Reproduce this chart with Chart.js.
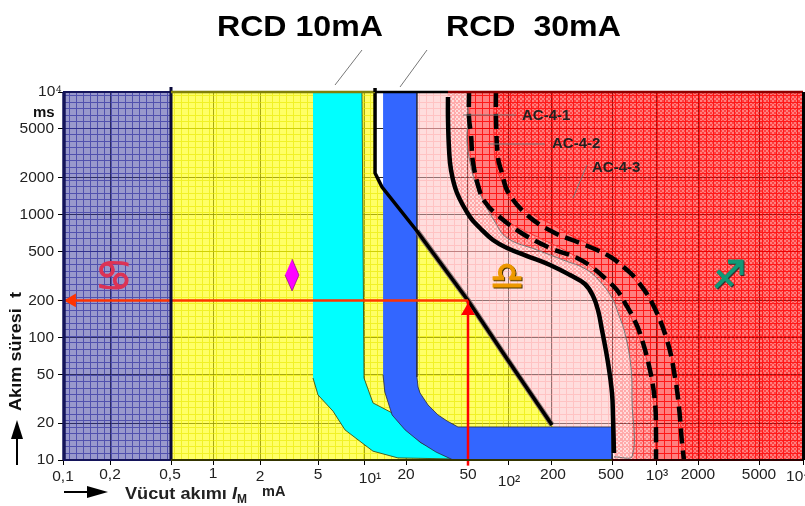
<!DOCTYPE html>
<html lang="tr">
<head>
<meta charset="UTF-8">
<title>RCD akim sure egrileri</title>
<script src="https://cdnjs.cloudflare.com/ajax/libs/Chart.js/4.4.1/chart.umd.js"></script>
<style>
  body { margin: 0; background: #fff; }
  canvas { display: block; }
</style>
</head>
<body>
<canvas id="chart" width="805" height="506"></canvas>
<script>
// axis values
var xTicks = [0.1, 0.2, 0.5, 1, 2, 5, 10, 20, 50, 100, 200, 500, 1000, 2000, 5000, 10000];
var xLabels = ["0,1", "0,2", "0,5", "1", "2", "5", "10¹", "20", "50", "10²", "200", "500", "10³", "2000", "5000", "10⁴"];
var yTicks = [10, 20, 50, 100, 200, 500, 1000, 2000, 5000, 10000];
var yLabels = ["10", "20", "50", "100", "200", "500", "1000", "2000", "5000", "10⁴"];

// the paper's x axis is not a perfect log scale, these are its gridlines in picture pixels
var xGridPx = [63, 110, 171, 213, 260, 318, 364, 406, 468, 508, 551, 612, 656, 698, 759, 803];
var xLabelDx = [0, 0, -1, 0, 0, 0, 6, 0, 0, 1, 2, -1, 1, 0, 0, -5];
var xLabelDy = [2, 0, 0, -1, 2, 0, 4, 0, 0, 7, 0, 0, 1, 0, 0, 2];

// curves, current in mA and time in ms
var c1Current = [37.2, 37.2, 37.8, 38.9, 42.5, 51.8, 61.5, 77.1, 98.3, 136, 197, 266, 333, 376, 405, 430, 471, 500, 508, 516];
var c1Time = [9100, 6138, 3367, 2313, 1502, 957, 779, 622, 535, 460, 389, 322, 272, 217, 167, 115, 62, 35.2, 22.4, 11.4];
var greyCurrent = [50, 50, 49.3, 51.8, 56.5, 64.8, 79.8, 98.3, 160, 240, 344, 437, 508, 550, 613, 674, 685, 685];
var greyTime = [10000, 6138, 3912, 2688, 1846, 1317, 871, 645, 515, 427, 354, 267, 202, 158, 108, 57, 30.8, 10.6];
var innerRedCurrent = [51.8, 51.8, 56.5, 70.7, 103, 167, 266, 376, 508, 595, 718, 868, 954, 1000];
var innerRedTime = [10000, 3242, 2227, 1133, 855, 645, 487, 368, 252, 202, 121, 65, 35.2, 10];
var outerRedCurrent = [78.4, 78.4, 81.2, 90.1, 103, 143, 206, 309, 437, 541, 777, 939, 1104, 1302, 1414, 1511, 1536];
var outerRedTime = [10000, 4060, 2540, 1846, 1368, 1032, 824, 622, 515, 444, 257, 191, 138, 69, 35.2, 17.6, 10];
var dash1Current = [50.9, 50.9, 52.7, 54.5, 61.5, 67.1, 79.8, 121, 197, 296, 376, 464, 541, 613, 696, 777, 910, 985, 1000, 1000];
var dash1Time = [10000, 6138, 4462, 2688, 1530, 1269, 1032, 722, 535, 444, 368, 293, 243, 191, 146, 108, 54, 29.2, 16.6, 10];
var dash2Current = [81.2, 81.2, 84.1, 90.1, 100, 136, 206, 309, 399, 500, 633, 741, 939, 1199, 1368, 1461, 1536, 1587];
var dash2Time = [10000, 6138, 2897, 2186, 1530, 994, 722, 587, 515, 444, 354, 293, 191, 95, 47.5, 27, 13.8, 10];
var limitCurrent = [12, 12, 13.46, 23.5, 50, 100, 203];
var limitTime = [10000, 2186, 1681, 736, 200, 65, 19.3];

// RCD bands
var cyanCurrent = [4.62, 9.7, 10, 11.6, 15.9, 24.6, 39.5, 17.5, 11.6, 9.7, 7.51, 6.27, 5, 4.62];
var cyanTime = [10000, 10000, 46.6, 29.2, 24.2, 14, 10.2, 10.4, 11.8, 13.8, 17.6, 25, 33.9, 46.6];
var blueCurrent = [13.7, 23.5, 23.5, 23.9, 24.6, 27.7, 32.1, 36.7, 43.1, 500, 500, 39.5, 31.2, 24.6, 19.7, 15.9, 14.1, 13.7];
var blueTime = [9900, 9900, 47.5, 39.4, 35.2, 28.1, 23.3, 20.8, 18.6, 18.6, 10, 10.1, 11.6, 14, 17.6, 23.3, 35.8, 49.3];

// marks
var diamondCurrent = [3.32, 3.7, 3.32, 2.97];
var diamondTime = [435, 322, 239, 322];
var arrowHCurrent = [0.1, 50];
var arrowHTime = [200, 200];
var arrowVCurrent = [50, 50];
var arrowVTime = [200, 9];

function pts(xs, ts) {
  return xs.map(function (v, i) { return { x: v, y: ts[i] }; });
}
// closed outline between two curves, from the top of the chart to the bottom
function band(ax, at, bx, bt) {
  var left = pts(ax, at), right = pts(bx, bt).reverse();
  return [{ x: ax[0], y: 10000 }].concat(left, [{ x: ax[ax.length - 1], y: 10 }, { x: bx[bx.length - 1], y: 10 }], right, [{ x: bx[0], y: 10000 }]);
}

// fill with the fine millimetre grid of the paper, and a dot hatch if asked
function paper(bg, dot, line) {
  var c = document.createElement("canvas");
  c.width = 28; c.height = 52;
  var g = c.getContext("2d");
  for (var y = 0; y < 52; y++) {
    for (var x = 0; x < 28; x++) {
      var onLine = x % 7 == 6 || y % 13 == 4 || y % 13 == 11;
      if (onLine) g.fillStyle = line;
      else if (dot && ((x >> 1) + (y >> 1)) % 2) g.fillStyle = dot;
      else g.fillStyle = bg;
      g.fillRect(x, y, 1, 1);
    }
  }
  return g.createPattern(c, "repeat");
}

class PaperLogScale extends Chart.LogarithmicScale {
  static id = "paperlog";
  static defaults = {};
  getPixelForValue(value) {
    if (this.axis != "x") return super.getPixelForValue(value);
    var lv = Math.log10(value), n = xTicks.length - 2;
    for (var i = 0; i < n; i++) {
      if (lv <= Math.log10(xTicks[i + 1])) break;
    }
    var a = Math.log10(xTicks[i]), b = Math.log10(xTicks[i + 1]);
    var px = xGridPx[i] + (lv - a) / (b - a) * (xGridPx[i + 1] - xGridPx[i]);
    return this.getPixelForDecimal((px - xGridPx[0]) / (xGridPx[15] - xGridPx[0]));
  }
  _computeLabelItems(area) {
    var items = super._computeLabelItems(area);
    var axis = this.axis;
    items.forEach(function (it, i) {
      if (axis == "x") {
        it.options.translation[0] += xLabelDx[i];
        it.options.translation[1] += xLabelDy[i];
      } else if (i == 9) {
        it.options.translation[0] += 8;
      }
    });
    return items;
  }
}
Chart.register(PaperLogScale);

function put(ctx, str, x, y, font, color, sx, rot) {
  ctx.save();
  ctx.translate(x, y);
  if (rot) ctx.rotate(rot);
  ctx.scale(sx || 1, 1);
  ctx.font = font;
  ctx.fillStyle = color;
  ctx.textAlign = "left";
  ctx.textBaseline = "middle";
  ctx.fillText(str, 0, 0);
  ctx.restore();
}
// zodiac signs are drawn with a stroke on top, the plain glyphs are too thin
function sign(ctx, str, x, y, size, color, shadow) {
  ctx.save();
  ctx.font = size + "px 'DejaVu Sans'";
  ctx.textAlign = "left";
  ctx.textBaseline = "middle";
  ctx.lineWidth = 1.2;
  if (shadow) {
    ctx.fillStyle = ctx.strokeStyle = shadow;
    ctx.fillText(str, x + 1, y + 1);
    ctx.strokeText(str, x + 1, y + 1);
  }
  ctx.fillStyle = ctx.strokeStyle = color;
  ctx.fillText(str, x, y);
  ctx.strokeText(str, x, y);
  ctx.restore();
}
function seg(ctx, x1, y1, x2, y2, color, w) {
  ctx.strokeStyle = color;
  ctx.lineWidth = w;
  ctx.beginPath();
  ctx.moveTo(x1, y1);
  ctx.lineTo(x2, y2);
  ctx.stroke();
}
function head(ctx, x1, y1, x2, y2, x3, y3) {
  ctx.fillStyle = "#000";
  ctx.beginPath();
  ctx.moveTo(x1, y1);
  ctx.lineTo(x2, y2);
  ctx.lineTo(x3, y3);
  ctx.closePath();
  ctx.fill();
}

// frame, leaders and all the text that sits around the plot
var decorations = {
  id: "decorations",
  afterDraw: function (chart) {
    var ctx = chart.ctx, x = chart.scales.x, a = chart.chartArea;
    var half = x.getPixelForValue(0.5), lim = x.getPixelForValue(12), c1 = x.getPixelForValue(37.2), last = x.getPixelForValue(500);
    ctx.save();
    seg(ctx, a.left + 1, a.top, a.left + 1, a.bottom, "#14145a", 3.5);
    seg(ctx, a.left, a.top, half, a.top, "#14145a", 2);
    seg(ctx, a.left, a.bottom, half, a.bottom, "#14145a", 2);
    seg(ctx, half, 87, half, a.bottom, "#08083a", 3);
    seg(ctx, half, a.top, lim, a.top, "#80800a", 2.5);
    seg(ctx, half, a.bottom, last, a.bottom, "#353500", 2);
    seg(ctx, last, a.bottom, a.right, a.bottom, "#300", 2);
    seg(ctx, lim, 88, lim, a.top, "#000", 3.5);
    seg(ctx, lim, a.top, c1, a.top, "#000", 2.5);
    seg(ctx, c1, a.top, a.right, a.top, "#900000", 2.5);
    seg(ctx, a.right + 0.5, a.top, a.right + 0.5, a.bottom, "#000", 3);

    seg(ctx, 335, 85, 362, 50, "#777", 1);
    seg(ctx, 400, 87, 427, 50, "#777", 1);
    seg(ctx, 463, 115, 516, 115, "#777", 1);
    seg(ctx, 488, 144, 545, 144, "#777", 1);
    seg(ctx, 573, 198, 587, 165, "#777", 1);

    put(ctx, "RCD 10mA", 217, 28, "bold 30px 'Liberation Sans'", "#000", 1.07);
    put(ctx, "RCD  30mA", 446, 28, "bold 30px 'Liberation Sans'", "#000", 1.07);
    put(ctx, "ms", 33, 113, "bold 15px 'Liberation Sans'", "#111");
    put(ctx, "AC-4-1", 522, 115.5, "bold 15px 'Liberation Sans'", "#222");
    put(ctx, "AC-4-2", 552, 144, "bold 15px 'Liberation Sans'", "#222");
    put(ctx, "AC-4-3", 592, 167.5, "bold 15px 'Liberation Sans'", "#222");

    put(ctx, "Akım süresi  t", 16, 411, "bold 16.5px 'Liberation Sans'", "#111", 1.1, -Math.PI / 2);
    put(ctx, "Vücut akımı", 125, 494, "bold 16.5px 'Liberation Sans'", "#222", 1.1);
    put(ctx, "I", 232, 494, "italic bold 16.5px 'Liberation Sans'", "#222", 1.1);
    put(ctx, "M", 237, 500, "bold 12px 'Liberation Sans'", "#222");
    put(ctx, "mA", 262, 492, "bold 14.5px 'Liberation Sans'", "#222");

    seg(ctx, 17, 465, 17, 436, "#000", 2);
    head(ctx, 17, 420, 11, 439, 23, 439);
    seg(ctx, 64, 492, 90, 492, "#000", 2);
    head(ctx, 108, 492, 87, 486, 87, 498);

    sign(ctx, "♋", 95, 279, 42, "#dd3355");
    sign(ctx, "♎", 490, 279, 38, "#ee9900", "#443300");
    sign(ctx, "♐", 712, 278, 38, "#119977", "#333333");
    ctx.restore();
  }
};

function polygon(data, fill, border, width, tension) {
  return { data: data, backgroundColor: fill, fill: "shape", borderColor: border || "transparent", borderWidth: width || 0, pointRadius: 0, tension: tension || 0 };
}
function curve(data, color, width, dash) {
  return { data: data, borderColor: color, borderWidth: width, borderDash: dash || [], fill: false, pointRadius: 0, tension: 0.4 };
}

var datasets = [
  { data: [{ x: 0.114, y: 200 }], pointStyle: "triangle", pointRotation: -90, pointRadius: 8, pointBackgroundColor: "#ff3300", pointBorderWidth: 0, showLine: false, fill: false },
  { data: [{ x: 50, y: 164 }], pointStyle: "triangle", pointRadius: 8, pointBackgroundColor: "#ff0000", pointBorderWidth: 0, showLine: false, fill: false },
  Object.assign(curve(pts(arrowVCurrent, arrowVTime), "#ff0000", 2.5), { clip: false }),
  curve(pts(arrowHCurrent, arrowHTime), "#ff3300", 2.5),
  curve(pts(c1Current, c1Time), "#000", 4.5),
  curve(pts(dash1Current, dash1Time), "#000", 4.5, [15, 7]),
  curve(pts(dash2Current, dash2Time), "#000", 4.5, [15, 7]),
  Object.assign(curve(pts(limitCurrent, limitTime), "#000", 3.5), { tension: 0 }),
  Object.assign(curve(pts(limitCurrent, limitTime).slice(3), "rgba(120,100,100,.8)", 5.5), { tension: 0 }),
  curve(pts(greyCurrent.concat(516), greyTime.concat(10.6)), "#777", 1),
  curve(pts(innerRedCurrent, innerRedTime), "#ff3030", 1),
  curve(pts(outerRedCurrent, outerRedTime), "#ff2020", 1),
  polygon(pts(blueCurrent, blueTime), "#3366ff", "rgba(40,40,60,.8)", 1),
  polygon(pts(cyanCurrent, cyanTime), "#00ffff", "rgba(60,60,0,.8)", 1),
  polygon(pts(diamondCurrent, diamondTime), "#ff00ff", "#801080", 0.7),
  // paper regions, from the pale to the strong one
  polygon(pts([0.1, 0.5, 0.5, 0.1], [10, 10, 10000, 10000]), paper("rgba(51,51,153,.5)", null, "rgba(50,50,160,.85)")),
  polygon(pts([0.5].concat(limitCurrent, [291, 0.5]), [10000].concat(limitTime, [10, 10])), paper("rgba(255,255,0,.6)", null, "rgba(238,238,0,.85)")),
  polygon(pts([20, 20, 23.5, 50, 100, 203, 291].concat(c1Current.slice().reverse(), [37.2]), [10000, 1000, 736, 200, 65, 19.3, 10].concat(c1Time.slice().reverse(), [10000])), paper("rgba(255,187,187,.5)", null, "rgba(255,170,170,.7)"), null, 0, 0.2),
  polygon(band(c1Current, c1Time, greyCurrent, greyTime), paper("rgba(255,187,187,.5)", "rgba(255,85,85,.5)", "rgba(255,85,85,.5)"), null, 0, 0.4),
  polygon(band(greyCurrent, greyTime, innerRedCurrent, innerRedTime), paper("rgba(255,0,0,.33)", "rgba(255,0,0,.53)", "rgba(255,0,0,.75)"), null, 0, 0.4),
  polygon(band(innerRedCurrent, innerRedTime, outerRedCurrent, outerRedTime), paper("rgba(255,0,0,.5)", null, "rgba(255,0,0,.9)"), null, 0, 0.4),
  polygon(band(outerRedCurrent, outerRedTime, [10000, 10000], [10000, 10]), paper("rgba(255,0,0,.5)", "rgba(255,0,0,.75)", "rgba(255,0,0,.9)"), null, 0, 0.4)
];

new Chart(document.getElementById("chart"), {
  type: "line",
  data: { datasets: datasets },
  plugins: [decorations],
  options: {
    responsive: false,
    animation: false,
    events: [],
    layout: { autoPadding: false, padding: { top: 92, right: 2, left: 0, bottom: 0 } },
    plugins: { legend: { display: false }, tooltip: { enabled: false } },
    scales: {
      x: {
        type: "paperlog",
        min: 0.1,
        max: 10000,
        border: { display: false },
        grid: { color: "rgba(0,0,0,.85)", lineWidth: 1, tickLength: 5, tickColor: "#000" },
        ticks: {
          autoSkip: false, maxRotation: 0, minRotation: 0, padding: 0,
          color: "#222", font: { family: "'Liberation Sans'", size: 15.5 },
          callback: function (v, i) { return xLabels[i]; }
        },
        afterBuildTicks: function (s) { s.ticks = xTicks.map(function (v) { return { value: v }; }); },
        afterFit: function (s) { s.height = 46; s.paddingLeft = s.paddingRight = s.paddingTop = s.paddingBottom = 0; }
      },
      y: {
        type: "paperlog",
        min: 10,
        max: 10000,
        border: { display: false },
        grid: { color: "rgba(0,0,0,.85)", lineWidth: 1, tickLength: 5, tickColor: "#000" },
        ticks: {
          autoSkip: false, padding: 4,
          color: "#222", font: { family: "'Liberation Sans'", size: 15.5 },
          callback: function (v, i) { return yLabels[i]; }
        },
        afterBuildTicks: function (s) { s.ticks = yTicks.map(function (v) { return { value: v }; }); },
        afterFit: function (s) { s.width = 63; s.paddingLeft = s.paddingRight = s.paddingTop = s.paddingBottom = 0; }
      }
    }
  }
});
</script>
</body>
</html>
